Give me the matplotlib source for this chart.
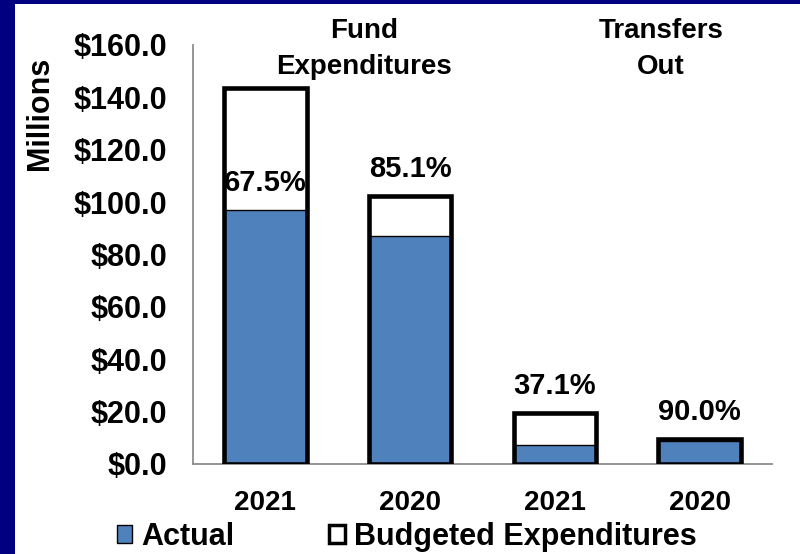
import matplotlib
matplotlib.use("Agg")
import matplotlib.pyplot as plt
from matplotlib.patches import Rectangle, Patch

categories = ["2021", "2020", "2021", "2020"]
budgeted = [143.5, 102.3, 19.5, 9.6]
actual = [96.9, 87.1, 7.2, 8.6]
pct_labels = ["67.5%", "85.1%", "37.1%", "90.0%"]
label_anchor = ["actual", "budget", "budget", "budget"]
groups = ["Fund\nExpenditures", "Transfers\nOut"]
yticks = [0, 20, 40, 60, 80, 100, 120, 140, 160]

main = "Liberation Sans"
navy = "#000080"
blue = "#4F81BD"

fig = plt.figure(figsize=(8, 5.54), dpi=100, facecolor="white")
fig.patches.append(Rectangle((0, 0), 15 / 800, 1, transform=fig.transFigure,
                             facecolor=navy, edgecolor="none", zorder=0))
fig.patches.append(Rectangle((0, 1 - 4 / 554), 1, 4 / 554, transform=fig.transFigure,
                             facecolor=navy, edgecolor="none", zorder=0))

ax = fig.add_axes([193 / 800, 1 - 464 / 554, (772 - 193) / 800, (464 - 45) / 554])
x = list(range(len(categories)))
w = 0.57
ax.bar(x, budgeted, width=w, color="white", edgecolor="none", zorder=1)
ax.bar(x, actual, width=w, color=blue, edgecolor="black", linewidth=1.0, zorder=2)
ax.bar(x, budgeted, width=w, color="none", edgecolor="black", linewidth=3.3, zorder=3)

for i, lab in enumerate(pct_labels):
    base = actual[i] if label_anchor[i] == "actual" else budgeted[i]
    ax.annotate(lab, (x[i], base), xytext=(0, 13), textcoords="offset pixels",
                ha="center", va="bottom", fontsize=21, fontweight="bold",
                family=main, zorder=5)

ax.set_xlim(-0.5, len(categories) - 0.5)
ax.set_ylim(0, 160)
ax.set_yticks(yticks)
ax.set_yticklabels([f"${v:.1f}" for v in yticks], fontsize=22, fontweight="bold", family=main)
ax.set_xticks(x)
ax.set_xticklabels(categories, fontsize=20, fontweight="bold", family=main)
ax.tick_params(axis="y", length=0, pad=18.5)
ax.tick_params(axis="x", length=0, pad=19)
for s in ["top", "right"]:
    ax.spines[s].set_visible(False)
for s in ["left", "bottom"]:
    ax.spines[s].set_color("#8C8C8C")
    ax.spines[s].set_linewidth(1.3)

fig.text(40 / 800, 1 - 113 / 554, "Millions", rotation=90, ha="center", va="center",
         fontsize=22, fontweight="bold", family=main)

fig.text(364 / 800, 1 - 49 / 554, groups[0], ha="center", va="center", fontsize=20,
         fontweight="bold", family=main, linespacing=1.5)
fig.text(661 / 800, 1 - 49 / 554, groups[1], ha="center", va="center", fontsize=20,
         fontweight="bold", family=main, linespacing=1.5)

handles = [Patch(facecolor=blue, edgecolor="black", linewidth=1.0),
           Patch(facecolor="white", edgecolor="black", linewidth=2.5)]
fig.legend(handles, ["Actual", "Budgeted Expenditures"], loc="center left",
           bbox_to_anchor=(117 / 800, 1 - 537 / 554), ncol=2, frameon=False,
           prop={"family": main, "weight": "bold", "size": 22},
           handlelength=0.5, handleheight=0.5, handletextpad=0.3, columnspacing=3.1,
           borderpad=0, borderaxespad=0)

fig.savefig("out.png", dpi=100, facecolor="white")
